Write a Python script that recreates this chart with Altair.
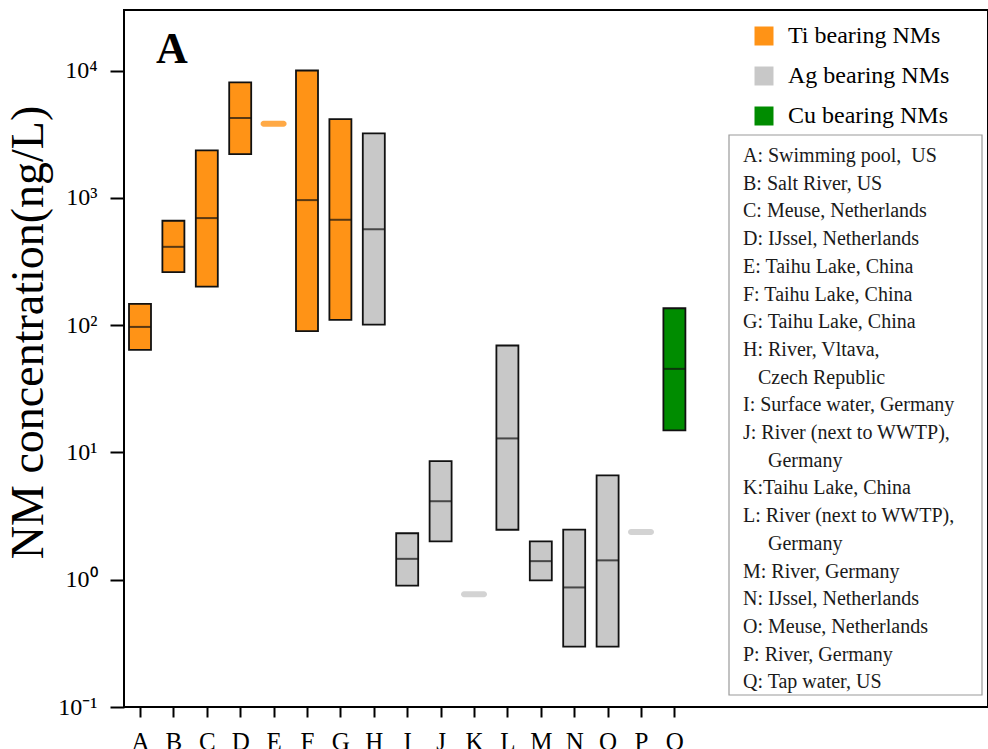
import altair as alt
import pandas as pd

categories = list("ABCDEFGHIJKLMNOPQ")
type_names = ["Ti bearing NMs", "Ag bearing NMs", "Cu bearing NMs"]
type_colors = ["#FF9316", "#C8C8C8", "#008C00"]

box_cats = ["A", "B", "C", "D", "F", "G", "H", "I", "J", "L", "M", "N", "O", "Q"]
box_low = [64, 261, 201, 2213, 90, 110, 101, 0.90, 2.0, 2.47, 0.99, 0.298, 0.298, 14.9]
box_median = [97, 413, 695, 4250, 962, 674, 569, 1.46, 4.14, 12.9, 1.40, 0.87, 1.42, 45.4]
box_high = [147, 662, 2364, 8090, 10040, 4170, 3215, 2.32, 8.55, 69.3, 2.0, 2.48, 6.6, 136]
box_type = ["Ti bearing NMs"] * 6 + ["Ag bearing NMs"] * 7 + ["Cu bearing NMs"]

single_cats = ["E", "K", "P"]
single_vals = [3830, 0.77, 2.37]
single_type = ["Ti bearing NMs", "Ag bearing NMs", "Ag bearing NMs"]

ytick_vals = [0.1, 1, 10, 100, 1000, 10000]
ytick_labels = ["10\u207b\u00b9", "10\u2070", "10\u00b9", "10\u00b2", "10\u00b3", "10\u2074"]

# (text, indent level): 0 = flush, 1 = small indent, 2 = larger indent
site_lines = [
    ("A: Swimming pool,\u00a0 US", 0),
    ("B: Salt River, US", 0),
    ("C: Meuse, Netherlands", 0),
    ("D: IJssel, Netherlands", 0),
    ("E: Taihu Lake, China", 0),
    ("F: Taihu Lake, China", 0),
    ("G: Taihu Lake, China", 0),
    ("H: River, Vltava,", 0),
    ("Czech Republic", 1),
    ("I: Surface water, Germany", 0),
    ("J: River (next to WWTP),", 0),
    ("Germany", 2),
    ("K:Taihu Lake, China", 0),
    ("L: River (next to WWTP),", 0),
    ("Germany", 2),
    ("M: River, Germany", 0),
    ("N: IJssel, Netherlands", 0),
    ("O: Meuse, Netherlands", 0),
    ("P: River, Germany", 0),
    ("Q: Tap water, US", 0),
]

FONT = "Liberation Serif"
BLANK = "\u200b"

box_df = pd.DataFrame({"cat": box_cats, "low": box_low, "median": box_median,
                       "high": box_high, "type": box_type})
single_df = pd.DataFrame({"cat": single_cats, "val": single_vals, "type": single_type})

label_expr = " : ".join(
    f"abs(datum.value - {v}) < {v * 0.01} ? '{lab}'" for v, lab in zip(ytick_vals, ytick_labels)
) + " : ''"

xscale = alt.Scale(type="point", domain=categories, range=[16, 16 + 16 * 33.4], padding=0)
yscale = alt.Scale(type="log", domain=[0.1, 30000], nice=False)

x_enc = alt.X("cat:N", sort=categories, scale=xscale,
              axis=alt.Axis(title=None, labelAngle=0, labelFont=FONT, labelFontSize=25,
                            labelColor="black", tickSize=10, tickWidth=2, tickColor="black",
                            labelPadding=12, domain=False, grid=False))
y_axis = alt.Axis(values=ytick_vals, labelExpr=label_expr, labelFont=FONT, labelFontSize=24,
                  labelColor="black", tickSize=14, tickWidth=2, tickColor="black",
                  labelPadding=13, domain=False, grid=False,
                  title="NM concentration(ng/L)", titleFont=FONT, titleFontSize=46,
                  titleFontWeight="normal", titleColor="black", titleX=-82, titleY=322,
                  titleBaseline="alphabetic", titleAngle=270)

color_enc = alt.Color("type:N", scale=alt.Scale(domain=type_names, range=type_colors),
                      legend=alt.Legend(title=None, orient="none", legendX=628, legendY=14,
                                        symbolType="square", symbolSize=361,
                                        symbolStrokeWidth=0, symbolOpacity=1,
                                        labelFont=FONT, labelFontSize=24, labelColor="black",
                                        labelLimit=400, labelOffset=12, rowPadding=16,
                                        padding=0))

bars = alt.Chart(box_df).mark_bar(size=22, stroke="#111111", strokeWidth=1.8).encode(
    x=x_enc,
    y=alt.Y("low:Q", scale=yscale, axis=y_axis),
    y2="high:Q",
    color=color_enc,
)

medians = alt.Chart(box_df).mark_tick(orient="horizontal", size=22, thickness=2,
                                      color="#111111").encode(
    x=alt.X("cat:N", sort=categories, scale=xscale),
    y=alt.Y("median:Q", scale=yscale),
)

singles = alt.Chart(single_df).mark_tick(orient="horizontal", size=26, thickness=6,
                                         cornerRadius=3, opacity=0.8).encode(
    x=alt.X("cat:N", sort=categories, scale=xscale),
    y=alt.Y("val:Q", scale=yscale),
    color=alt.Color("type:N", scale=alt.Scale(domain=type_names, range=type_colors)),
)

one = alt.Data(values=[{"k": 1}])

box = alt.Chart(one).mark_rect(fill="white", stroke="#9a9a9a", strokeWidth=1.2).encode(
    x=alt.value(605), x2=alt.value(858), y=alt.value(125), y2=alt.value(685)
)

indent_px = [0, 15, 25]
desc_layers = []
for level, dx in enumerate(indent_px):
    lines = [t if lv == level else BLANK for t, lv in site_lines]
    desc_layers.append(
        alt.Chart(one).mark_text(align="left", baseline="alphabetic", font=FONT, fontSize=20,
                                 color="#1a1a1a", lineHeight=27.7, dx=dx).encode(
            x=alt.value(619), y=alt.value(152), text=alt.value(lines)
        )
    )

panel = alt.Chart(one).mark_text(align="center", baseline="alphabetic", font=FONT,
                                 fontSize=44, fontWeight="bold", color="black").encode(
    x=alt.value(48), y=alt.value(53), text=alt.value("A")
)

chart = alt.layer(bars, medians, singles, box, *desc_layers, panel).properties(
    width=864, height=697,
    background="white",
    autosize=alt.AutoSizeParams(type="none"),
    padding={"left": 124, "top": 10, "right": 0, "bottom": 42},
).configure_view(stroke="black", strokeWidth=2)

chart.save("out.html", embed_options={"renderer": "svg", "actions": False})
